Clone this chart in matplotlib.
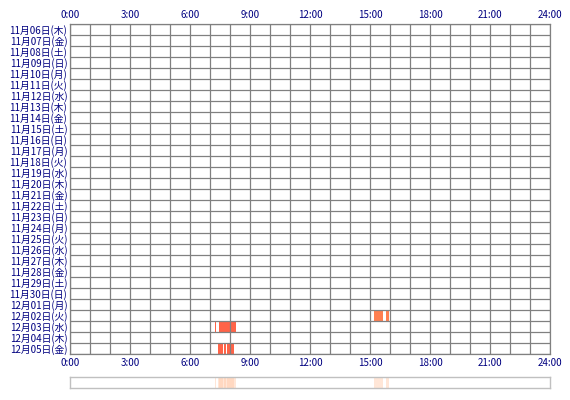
import matplotlib
matplotlib.use("Agg")
import matplotlib.pyplot as plt

plt.rcParams['font.family'] = ['Noto Sans CJK JP', 'DejaVu Sans']

# ---- data ----
dates = ["11月06日", "11月07日", "11月08日", "11月09日", "11月10日", "11月11日",
         "11月12日", "11月13日", "11月14日", "11月15日", "11月16日", "11月17日",
         "11月18日", "11月19日", "11月20日", "11月21日", "11月22日", "11月23日",
         "11月24日", "11月25日", "11月26日", "11月27日", "11月28日", "11月29日",
         "11月30日", "12月01日", "12月02日", "12月03日", "12月04日", "12月05日"]
weekdays = ["木", "金", "土", "日", "月", "火", "水", "木", "金", "土", "日", "月",
            "火", "水", "木", "金", "土", "日", "月", "火", "水", "木", "金", "土",
            "日", "月", "火", "水", "木", "金"]
hour_ticks = [0, 3, 6, 9, 12, 15, 18, 21, 24]
hour_labels = ["0:00", "3:00", "6:00", "9:00", "12:00", "15:00", "18:00", "21:00", "24:00"]

# activity segments (day label, start hour, end hour)
seg_day = ["12月02日", "12月02日", "12月03日", "12月03日",
           "12月05日", "12月05日", "12月05日"]
seg_start = [15.20, 15.80, 7.25, 7.45, 7.40, 7.70, 7.83]
seg_end = [15.65, 15.97, 7.30, 8.30, 7.65, 7.78, 8.20]

# ---- style ----
day_colors = {"12月02日": "#FF7F50"}
default_color = "#FF6347"
navy = "#000080"
grid_gray = "#808080"

W, H = 570, 400
fig = plt.figure(figsize=(W / 100, H / 100), dpi=100)

L, R = 70, 550
T, B = 24, 354
ax = fig.add_axes([L / W, 1 - B / H, (R - L) / W, (B - T) / H])
n = len(dates)
ax.set_xlim(0, 24)
ax.set_ylim(n, 0)

for d, s, e in zip(seg_day, seg_start, seg_end):
    i = dates.index(d)
    ax.barh(i + 0.5, e - s, left=s, height=1.0,
            color=day_colors.get(d, default_color), linewidth=0, zorder=1)

# grid lines
for h in range(0, 25):
    ax.axvline(h, color=grid_gray, lw=0.9, zorder=2)
for r in range(0, n + 1):
    ax.axhline(r, color=grid_gray, lw=0.9, zorder=2)
for sp in ax.spines.values():
    sp.set_color(grid_gray)
    sp.set_linewidth(0.9)

ax.set_xticks(hour_ticks)
ax.set_xticklabels(hour_labels)
ax.tick_params(axis='x', length=0, labeltop=True, labelbottom=True,
               colors=navy, labelsize=7, pad=3)
ax.set_yticks([i + 0.5 for i in range(n)])
ax.set_yticklabels([f"{d}({w})" for d, w in zip(dates, weekdays)])
ax.tick_params(axis='y', length=0, colors=navy, labelsize=7, pad=2)

# overview strip
OT, OB = 377, 388
ax2 = fig.add_axes([L / W, 1 - OB / H, (R - L) / W, (OB - OT) / H])
ax2.set_xlim(0, 24)
ax2.set_ylim(0, 1)
for s, e in zip(seg_start, seg_end):
    ax2.axvspan(s, e, color="#FFC8A8", alpha=0.45, linewidth=0)
ax2.set_xticks([])
ax2.set_yticks([])
for sp in ax2.spines.values():
    sp.set_color("#C0C0C0")
    sp.set_linewidth(1.0)

fig.savefig("out.png", dpi=100)
